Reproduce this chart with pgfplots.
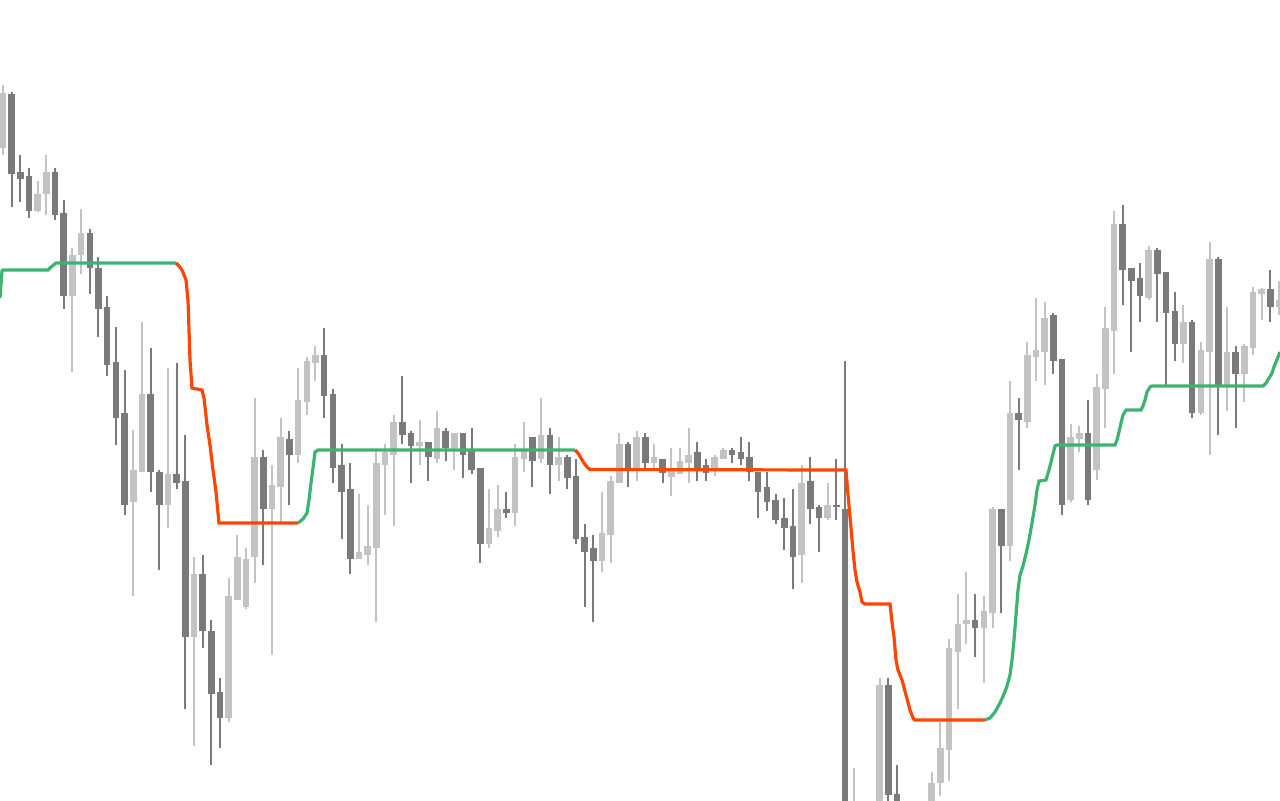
\documentclass[border=0pt]{standalone}
\usepackage{pgfplots}
\pgfplotsset{compat=1.18}
\usepackage{pgfplotstable}
\definecolor{clight}{RGB}{195,195,195}
\definecolor{cdark}{RGB}{122,122,122}
\definecolor{cgreen}{RGB}{60,179,113}
\definecolor{cred}{RGB}{255,69,0}
\pgfplotstableread{
i hi top bot lo
0 85 93 148 155
4 181 194 211 212
5 155 172 194 215
8 248 255 296 372
9 209 233 255 274
15 430 470 502 596
16 322 394 472 472
19 368 474 505 528
22 557 574 637 746
26 578 596 718 722
27 535 557 600 600
28 548 559 607 609
29 398 457 557 583
31 465 485 509 655
32 418 437 487 522
34 368 400 455 463
35 357 361 402 415
36 346 355 363 381
41 494 552 559 559
42 505 546 555 565
43 451 463 548 622
44 444 452 465 515
45 415 422 455 526
48 420 442 446 465
50 411 428 459 463
52 433 433 448 470
56 489 528 544 548
57 485 509 531 537
59 444 457 513 526
60 422 450 459 472
62 398 435 459 463
64 437 457 465 481
69 492 533 561 572
70 476 481 535 563
71 433 444 483 483
73 431 437 469 481
75 444 457 463 468
77 448 470 477 496
78 448 461 474 474
79 428 455 463 483
82 455 457 468 476
83 448 450 459 459
92 465 483 555 583
95 483 505 518 520
98 768 810 900 950
101 678 685 850 870
107 772 783 830 850
108 722 748 783 796
109 639 648 750 781
110 594 624 652 709
111 572 620 624 644
113 596 611 628 683
114 507 509 613 628
116 381 413 546 561
118 342 355 422 428
119 298 350 357 381
120 302 318 352 385
123 424 437 500 502
124 426 433 439 452
126 374 387 470 480
127 307 328 389 428
128 211 224 331 374
132 246 250 298 300
136 305 322 344 363
138 342 350 413 415
139 242 259 352 455
141 307 352 385 411
143 344 346 374 402
144 287 292 348 355
145 288 289 294 320
147 281 300 307 315
}\lightdata
\pgfplotstableread{
i hi top bot lo
1 92 94 174 207
2 155 172 179 202
3 168 176 211 218
6 168 172 215 220
7 200 213 296 309
10 229 233 268 294
11 257 268 309 337
12 296 307 365 376
13 327 362 418 445
14 370 413 505 515
17 348 394 472 492
18 470 472 505 570
20 363 474 483 489
21 435 481 637 709
23 555 574 631 648
24 620 631 694 765
25 678 692 718 748
30 450 457 509 565
33 431 439 455 505
37 328 355 396 418
38 389 394 468 483
39 444 465 492 539
40 463 489 559 574
46 376 422 435 444
47 431 433 446 483
49 442 442 457 481
51 428 431 448 461
53 433 433 455 478
54 428 451 470 474
55 468 468 544 563
58 492 509 513 518
61 437 437 461 487
63 428 435 465 494
65 455 457 478 489
66 459 476 539 544
67 524 537 552 607
68 535 548 561 622
72 442 444 469 487
74 433 437 463 468
76 459 459 473 483
80 442 452 468 481
81 459 465 473 481
84 448 450 455 463
85 437 452 459 465
86 442 457 472 481
87 472 472 492 518
88 472 487 502 511
89 494 500 520 524
90 498 518 528 550
91 489 526 557 589
93 457 481 509 524
94 505 507 518 552
96 459 505 507 520
97 361 509 900 950
102 678 685 795 850
103 765 794 850 870
112 594 620 628 657
115 509 509 546 613
117 398 413 420 470
121 313 315 361 374
122 359 359 505 515
125 400 433 500 505
129 205 224 270 305
130 268 268 281 352
131 263 278 296 322
133 248 250 274 322
134 272 272 313 385
135 292 311 344 361
137 320 322 413 418
140 257 259 385 435
142 346 352 374 428
146 270 289 307 322
}\darkdata
\pgfplotsset{
  wick/.style={draw=none,mark=none,forget plot,
    error bars/.cd,y dir=both,y explicit,error mark=none,
    error bar style={line width=1pt,draw=#1}},
  body/.style={draw=none,mark=none,forget plot,
    error bars/.cd,y dir=both,y explicit,error mark=none,
    error bar style={line width=3.3pt,draw=#1}},
}
\begin{document}
\begin{tikzpicture}
\begin{axis}[width=640pt,height=400pt,scale only axis,hide axis,
  xmin=0,xmax=1280,ymin=0,ymax=800,y dir=reverse,clip=true]
\addplot[wick=clight] table[x expr=3+8.68*\thisrow{i},y expr=0.5*(\thisrow{hi}+\thisrow{lo}),y error expr=0.5*(\thisrow{lo}-\thisrow{hi})]{\lightdata};
\addplot[body=clight] table[x expr=3+8.68*\thisrow{i},y expr=0.5*(\thisrow{top}+\thisrow{bot}),y error expr=0.5*(\thisrow{bot}-\thisrow{top})]{\lightdata};
\addplot[wick=cdark] table[x expr=3+8.68*\thisrow{i},y expr=0.5*(\thisrow{hi}+\thisrow{lo}),y error expr=0.5*(\thisrow{lo}-\thisrow{hi})]{\darkdata};
\addplot[body=cdark] table[x expr=3+8.68*\thisrow{i},y expr=0.5*(\thisrow{top}+\thisrow{bot}),y error expr=0.5*(\thisrow{bot}-\thisrow{top})]{\darkdata};
% trend lines
\addplot[cgreen,line width=1.6pt] coordinates {(0,298)(2,271)(3,270)(48,270)(51,267)(56,263)(176,263)};
\addplot[cred,line width=1.6pt] coordinates {(176,263)(179,266)(182,270)(186,280)(188,300)(190,360)(192,388)(202,390)(204,398)(207,425)(210,445)(213,470)(216,492)(219,523)(298,523)};
\addplot[cgreen,line width=1.6pt] coordinates {(298,523)(303,519)(307,513)(309,500)(311,483)(313,468)(315,452)(318,450)(575,450)};
\addplot[cred,line width=1.6pt] coordinates {(575,450)(578,453)(581,458)(584,463)(587,467)(590,469.5)(846,470)(847,483)(849,506)(851,528)(853,551)(855,570)(857,582)(860,592)(862,602)(865,604)(890,604)(892,622)(894,637)(896,660)(898,670)(902,680)(906,695)(910,710)(913,718)(915,720)(985,720)};
\addplot[cgreen,line width=1.6pt] coordinates {(985,720)(990,718)(995,712)(1000,703)(1004,694)(1007,686)(1010,675)(1012,660)(1014,640)(1016,615)(1018,590)(1020,575)(1023,566)(1026,554)(1029,540)(1032,523)(1035,505)(1037,490)(1039,481)(1046,480)(1049,470)(1052,458)(1055,446)(1057,445)(1115,445)(1117,440)(1119,432)(1121,423)(1123,415)(1126,410)(1141,410)(1143,406)(1145,400)(1147,392)(1150,387)(1152,386)(1263,386)(1266,383)(1269,378)(1272,373)(1274,367)(1276,362)(1280,352)};
\end{axis}
\pgfresetboundingbox
\useasboundingbox (current axis.south west) rectangle (current axis.north east);
\end{tikzpicture}
\end{document}
